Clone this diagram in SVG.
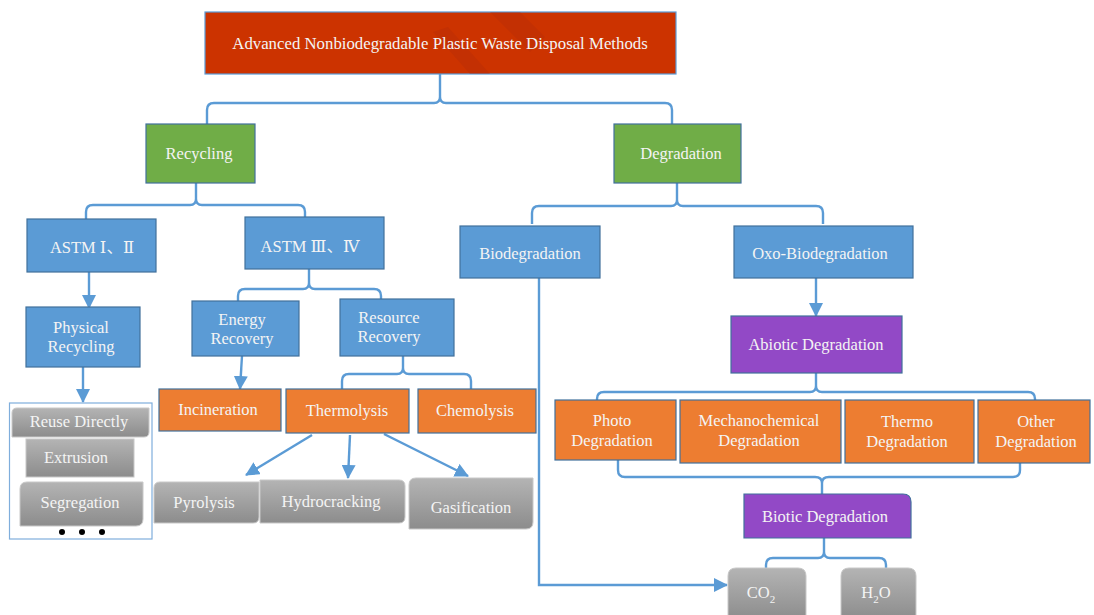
<svg xmlns="http://www.w3.org/2000/svg" width="1094" height="615" viewBox="0 0 1094 615">
<style>
text{font-family:"Liberation Serif","DejaVu Serif","Noto Sans CJK SC",serif;font-size:16.5px;fill:#F4F4F4;text-anchor:middle}
.red{fill:#CC3300;stroke:#5B9BD5;stroke-width:1.2}
.grn{fill:#70AD47;stroke:#41719C;stroke-width:1.2}
.blu{fill:#5B9BD5;stroke:#41719C;stroke-width:1.2}
.org{fill:#ED7D31;stroke:#41719C;stroke-width:1.2}
.pur{fill:#9249C6;stroke:#41719C;stroke-width:1.2}
.gry{fill:url(#g);stroke:#C8C8C8;stroke-width:1}
.con{fill:none;stroke:#5B9BD5;stroke-width:2.4}
.arr{fill:none;stroke:#5B9BD5;stroke-width:2.4;marker-end:url(#ah)}
</style>
<defs>
<linearGradient id="g" x1="0" y1="0" x2="0" y2="1">
<stop offset="0" stop-color="#B4B4B4"/>
<stop offset="1" stop-color="#8C8C8C"/>
</linearGradient>
<marker id="ah" markerUnits="userSpaceOnUse" markerWidth="14" markerHeight="14" viewBox="0 0 14 14" refX="13" refY="7" orient="auto">
<path d="M0,0 L14,7 L0,14 Z" fill="#5B9BD5"/>
</marker>
</defs>

<g id="connectors">
<path class="con" d="M440,74 V97 Q440,103 434,103 H214 Q207,103 207,110 V124 M440,97 Q440,103 446,103 H665 Q672,103 672,110 V124"/>
<path class="con" d="M196,183 V199 Q196,205 190,205 H93 Q86,205 86,212 V219 M196,199 Q196,205 202,205 H298 Q305,205 305,212 V217"/>
<path class="con" d="M309,269 V283 Q309,289 303,289 H245 Q238,289 238,296 V301 M309,283 Q309,289 315,289 H374 Q381,289 381,296 V299"/>
<path class="con" d="M403,356 V368 Q403,374 397,374 H349 Q342,374 342,381 V389 M403,368 Q403,374 409,374 H464 Q471,374 471,381 V389"/>
<path class="con" d="M677,183 V200 Q677,206 671,206 H539 Q532,206 532,213 V224 M677,200 Q677,206 683,206 H816 Q823,206 823,213 V224"/>
<path class="con" d="M816,373 V386 Q816,392 810,392 H604 Q597,392 597,399 V400 M816,386 Q816,392 822,392 H1028 Q1035,392 1035,399 V400"/>
<path class="con" d="M618,460 V470 Q618,477 625,477 H815 Q822,477 822,483 V494 M1020,463 V470 Q1020,477 1013,477 H829 Q822,477 822,483"/>
<path class="con" d="M824,538 V552 Q824,558 818,558 H773 Q766,558 766,565 V568 M824,552 Q824,558 830,558 H879 Q886,558 886,565 V568"/>
<path class="arr" d="M89,272 V308"/>
<path class="arr" d="M83,367 V402"/>
<path class="arr" d="M242,356 L240,389"/>
<path class="arr" d="M312,435 L246,475"/>
<path class="arr" d="M350,435 L348,478"/>
<path class="arr" d="M384,434 L468,476"/>
<path class="arr" d="M816,278 V316"/>
<path class="arr" d="M539,278 V585 H727"/>
</g>

<g id="title">
<rect class="red" x="205" y="12" width="471" height="62"/>
<polygon points="490,12 520,12 545,37 530,52" fill="#A8280A" opacity="0.25"/>
<polygon points="433,32 448,27 490,74 470,74" fill="#A8280A" opacity="0.25"/>
<text x="440" y="49" style="font-size:16.8px">Advanced Nonbiodegradable Plastic Waste Disposal Methods</text>
</g>
<g id="recycling"><rect class="grn" x="146" y="124" width="109" height="59"/><text x="199" y="159">Recycling</text></g>
<g id="degradation"><rect class="grn" x="614" y="124" width="127" height="59"/><text x="681" y="159">Degradation</text></g>
<g id="astm12"><rect class="blu" x="27" y="219" width="129" height="53"/><text x="92" y="253">ASTM Ⅰ、Ⅱ</text></g>
<g id="astm34"><rect class="blu" x="245" y="217" width="139" height="52"/><text x="310" y="252">ASTM Ⅲ、Ⅳ</text></g>
<g id="physical"><rect class="blu" x="26" y="307" width="114" height="60"/><text x="81" y="333">Physical</text><text x="81" y="352">Recycling</text></g>
<g id="energy"><rect class="blu" x="192" y="301" width="107" height="55"/><text x="242" y="325">Energy</text><text x="242" y="344">Recovery</text></g>
<g id="resource"><rect class="blu" x="340" y="299" width="114" height="57"/><text x="389" y="323">Resource</text><text x="389" y="342">Recovery</text></g>
<g id="physical-list">
<rect x="9.5" y="403" width="142.5" height="136" fill="#FFFFFF" stroke="#7FAEDC" stroke-width="1.2"/>
<path class="gry" d="M17,408 H149 V432 Q149,437 144,437 H12 V413 Q12,408 17,408 Z"/><text x="79" y="427">Reuse Directly</text>
<rect class="gry" x="26" y="439" width="108" height="38"/><text x="76" y="463">Extrusion</text>
<path class="gry" d="M27,482 H143 V519 Q143,526 136,526 H20 V489 Q20,482 27,482 Z"/><text x="80" y="508">Segregation</text>
<circle cx="62" cy="532" r="3" fill="#000"/><circle cx="82" cy="532" r="3" fill="#000"/><circle cx="102" cy="532" r="3" fill="#000"/>
</g>
<g id="incineration"><rect class="org" x="159" y="389" width="122" height="42"/><text x="218" y="415">Incineration</text></g>
<g id="thermolysis"><rect class="org" x="286" y="389" width="123" height="44"/><text x="347" y="416">Thermolysis</text></g>
<g id="chemolysis"><rect class="org" x="418" y="389" width="118" height="44"/><text x="475" y="416">Chemolysis</text></g>
<g id="pyrolysis"><path class="gry" d="M160,482 H259 V517 Q259,523 253,523 H154 V488 Q154,482 160,482 Z"/><text x="204" y="508">Pyrolysis</text></g>
<g id="hydrocracking"><path class="gry" d="M260,480 H399 Q405,480 405,486 V517 Q405,523 399,523 H260 Z"/><text x="331" y="507">Hydrocracking</text></g>
<g id="gasification"><path class="gry" d="M416,478 H533 V522 Q533,529 526,529 H409 V485 Q409,478 416,478 Z"/><text x="471" y="513">Gasification</text></g>
<g id="biodegradation"><rect class="blu" x="460" y="226" width="140" height="52"/><text x="530" y="259">Biodegradation</text></g>
<g id="oxo"><rect class="blu" x="734" y="226" width="179" height="52"/><text x="820" y="259">Oxo-Biodegradation</text></g>
<g id="abiotic"><rect class="pur" x="731" y="316" width="171" height="57"/><text x="816" y="350">Abiotic Degradation</text></g>
<g id="photo"><rect class="org" x="555" y="400" width="121" height="60"/><text x="612" y="426">Photo</text><text x="612" y="446">Degradation</text></g>
<g id="mechano"><rect class="org" x="680" y="400" width="161" height="63"/><text x="759" y="426">Mechanochemical</text><text x="759" y="446">Degradation</text></g>
<g id="thermo"><rect class="org" x="845" y="400" width="129" height="63"/><text x="907" y="427">Thermo</text><text x="907" y="447">Degradation</text></g>
<g id="other"><rect class="org" x="978" y="400" width="112" height="63"/><text x="1036" y="427">Other</text><text x="1036" y="447">Degradation</text></g>
<g id="biotic"><path class="pur" d="M744,494 H903 Q911,494 911,502 V538 H744 Z"/><text x="825" y="522">Biotic Degradation</text></g>
<g id="co2"><path class="gry" d="M736,568 H798 Q806,568 806,576 V620 H728 V576 Q728,568 736,568 Z"/><text x="761" y="598">CO<tspan font-size="11" dy="5">2</tspan></text></g>
<g id="h2o"><path class="gry" d="M849,568 H908 Q916,568 916,576 V620 H841 V576 Q841,568 849,568 Z"/><text x="876" y="598">H<tspan font-size="11" dy="5">2</tspan><tspan dy="-5">O</tspan></text></g>
</svg>
